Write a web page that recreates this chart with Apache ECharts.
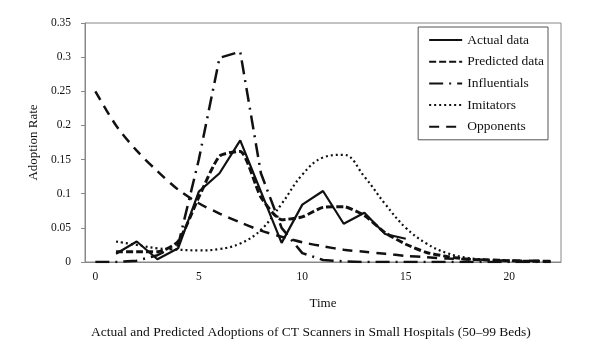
<!DOCTYPE html>
<html>
<head>
<meta charset="utf-8">
<script src="https://cdn.jsdelivr.net/npm/echarts@6/dist/echarts.min.js"></script>
<style>
  html, body { margin: 0; padding: 0; background: #fff; }
  #container { width: 599px; height: 352px; }
</style>
</head>
<body>
<div id="container"></div>
<script>
// time steps 0..22
var times = ['0','1','2','3','4','5','6','7','8','9','10','11','12','13','14','15','16','17','18','19','20','21','22'];
var actualData = [null, 0.012, 0.03, 0.004, 0.02, 0.103, 0.13, 0.178, 0.103, 0.028, 0.084, 0.104, 0.056, 0.072, 0.041, 0.034];
var predictedData = [null, 0.015, 0.015, 0.015, 0.03, 0.095, 0.155, 0.162, 0.095, 0.062, 0.066, 0.08, 0.081, 0.068, 0.043, 0.026, 0.014, 0.008, 0.004, 0.003, 0.002, 0.001, 0.001];
var influentials = [0, 0, 0.002, 0.01, 0.025, 0.15, 0.299, 0.308, 0.13, 0.05, 0.013, 0.003, 0.001, 0, 0, 0, 0, 0, 0, 0, 0, 0, 0];
var imitators = [null, 0.03, 0.025, 0.02, 0.018, 0.017, 0.019, 0.027, 0.047, 0.085, 0.128, 0.153, 0.157, 0.125, 0.085, 0.05, 0.027, 0.013, 0.006, 0.003, 0.002, 0.001, 0.001];
var opponents = [0.25, 0.2, 0.163, 0.133, 0.106, 0.086, 0.071, 0.058, 0.046, 0.037, 0.029, 0.023, 0.018, 0.015, 0.012, 0.009, 0.007, 0.005, 0.004, 0.003, 0.002, 0.002, 0.001];

var font = 'Liberation Serif';
var ink = '#111';

var myChart = echarts.init(document.getElementById('container'));

var option = {
  animation: false,
  textStyle: { fontFamily: font, color: ink },
  title: {
    text: 'Actual and Predicted Adoptions of CT Scanners in Small Hospitals (50\u201399 Beds)',
    left: 86,
    top: 320,
    textStyle: { fontFamily: font, fontSize: 13.5, fontWeight: 'normal', color: ink }
  },
  grid: {
    left: 85, right: 38, top: 23, bottom: 90,
    show: true, borderColor: '#888', borderWidth: 1
  },
  legend: {
    orient: 'vertical',
    right: 51,
    top: 27,
    padding: [6, 4, 6, 10],
    itemWidth: 33,
    itemHeight: 14,
    itemGap: 7.7,
    borderColor: '#555',
    borderWidth: 1,
    itemStyle: { opacity: 0 },
    textStyle: { fontFamily: font, fontSize: 13.5, color: ink },
    data: ['Actual data', 'Predicted data', 'Influentials', 'Imitators', 'Opponents']
  },
  xAxis: {
    type: 'category',
    data: times,
    boundaryGap: true,
    name: 'Time',
    nameLocation: 'middle',
    nameGap: 35,
    nameTextStyle: { fontFamily: font, fontSize: 13, color: ink },
    axisLine: { lineStyle: { color: '#888' } },
    axisTick: { interval: 0, inside: true, length: 4, lineStyle: { color: '#888' } },
    axisLabel: { interval: 4, margin: 9, fontFamily: font, fontSize: 11.5, color: ink },
    splitLine: { show: false }
  },
  yAxis: {
    type: 'value',
    min: 0,
    max: 0.35,
    interval: 0.05,
    name: 'Adoption Rate',
    nameLocation: 'middle',
    nameGap: 45,
    nameTextStyle: { fontFamily: font, fontSize: 13, color: ink },
    axisLine: { show: true, lineStyle: { color: '#888' } },
    axisTick: { show: true, length: 4, lineStyle: { color: '#888' } },
    axisLabel: { margin: 14, fontFamily: font, fontSize: 11.5, color: ink },
    splitLine: { show: false }
  },
  series: [
    {
      name: 'Actual data', type: 'line', data: actualData, symbol: 'none',
      lineStyle: { color: ink, width: 2.2, type: 'solid' }, itemStyle: { color: ink }
    },
    {
      name: 'Predicted data', type: 'line', data: predictedData, symbol: 'none', smooth: 0.2,
      lineStyle: { color: ink, width: 3, type: [7, 3] }, itemStyle: { color: ink }
    },
    {
      name: 'Influentials', type: 'line', data: influentials, symbol: 'none',
      lineStyle: { color: ink, width: 2.5, type: [14, 6, 2, 6] }, itemStyle: { color: ink }
    },
    {
      name: 'Imitators', type: 'line', data: imitators, symbol: 'none', smooth: 0.4,
      lineStyle: { color: ink, width: 2.2, type: [2, 3] }, itemStyle: { color: ink }
    },
    {
      name: 'Opponents', type: 'line', data: opponents, symbol: 'none', smooth: 0.3,
      lineStyle: { color: ink, width: 2.5, type: [10, 7] }, itemStyle: { color: ink }
    }
  ]
};

myChart.setOption(option);
</script>
</body>
</html>
